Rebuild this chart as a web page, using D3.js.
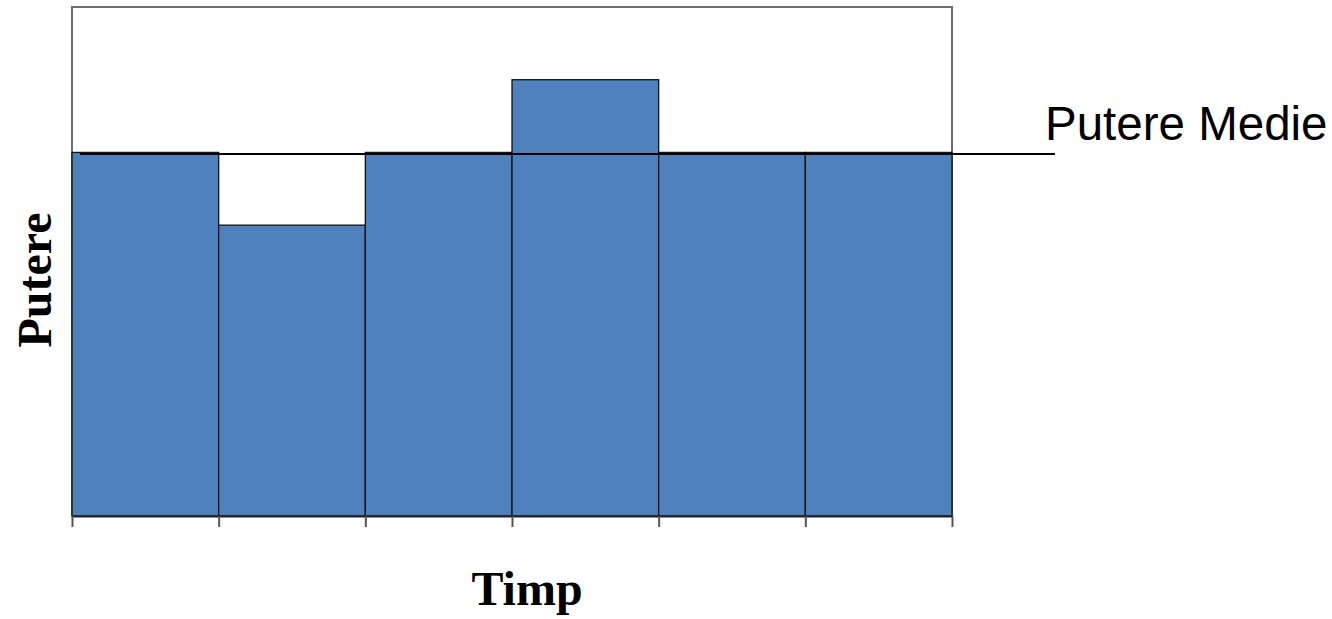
<!DOCTYPE html>
<html>
<head>
<meta charset="utf-8">
<script src="https://cdn.jsdelivr.net/npm/d3@7"></script>
<style>
  html, body { margin: 0; padding: 0; background: #fff; }
  svg { display: block; }
</style>
</head>
<body>
<svg id="chart" width="1332" height="619"></svg>
<script>
(function () {
// Power delivered in each time interval
const intervals = ["t1", "t2", "t3", "t4", "t5", "t6"];
const power = [5, 4, 5, 6, 5, 5];
const yDomain = [0, 7];
const xTitle = "Timp";
const yTitle = "Putere";
const meanLabel = "Putere Medie";

const svg = d3.select("#chart");
const plotLeft = 72, plotRight = 952, plotTop = 7, plotBottom = 516;

const x = d3.scaleLinear().domain([0, intervals.length]).range([plotLeft, plotRight]);
const y = d3.scaleLinear().domain(yDomain).range([plotBottom, plotTop]);

// plot frame (top, left, right)
svg.append("path")
  .attr("d", `M${plotLeft},${plotBottom} V${plotTop} H${plotRight} V${plotBottom}`)
  .attr("fill", "none")
  .attr("stroke", "#6e6e6e")
  .attr("stroke-width", 2);

// bars
svg.append("g").selectAll("rect")
  .data(power)
  .join("rect")
  .attr("x", (d, i) => x(i))
  .attr("y", d => y(d))
  .attr("width", (d, i) => x(i + 1) - x(i))
  .attr("height", d => y(0) - y(d))
  .attr("fill", "#4F81BD")
  .attr("stroke", "#111")
  .attr("stroke-width", 1.3);

// time axis with ticks at interval boundaries
const xAxis = d3.axisBottom(x)
  .tickValues(d3.range(intervals.length + 1))
  .tickFormat("")
  .tickSizeInner(11)
  .tickSizeOuter(0);
const gx = svg.append("g")
  .attr("transform", `translate(0,${plotBottom})`)
  .call(xAxis);
gx.select(".domain").attr("stroke", "#222").attr("stroke-width", 2);
gx.selectAll(".tick line").attr("stroke", "#555").attr("stroke-width", 2);

// mean power line
const mean = d3.mean(power);
svg.append("line")
  .attr("x1", 80)
  .attr("x2", 1055)
  .attr("y1", y(mean) + 1.5)
  .attr("y2", y(mean) + 1.5)
  .attr("stroke", "#000")
  .attr("stroke-width", 2);

svg.append("text")
  .attr("x", 1045)
  .attr("y", 140)
  .attr("font-family", "Liberation Sans, Arial, sans-serif")
  .attr("font-size", 47.5)
  .attr("fill", "#000")
  .text(meanLabel);

// axis titles
svg.append("text")
  .attr("x", 527)
  .attr("y", 605)
  .attr("text-anchor", "middle")
  .attr("font-family", "Liberation Serif, Times New Roman, serif")
  .attr("font-weight", "bold")
  .attr("font-size", 48)
  .attr("fill", "#000")
  .text(xTitle);

svg.append("text")
  .attr("transform", "translate(51,280) rotate(-90)")
  .attr("text-anchor", "middle")
  .attr("font-family", "Liberation Serif, Times New Roman, serif")
  .attr("font-weight", "bold")
  .attr("font-size", 48)
  .attr("fill", "#000")
  .text(yTitle);
})();
</script>
</body>
</html>
